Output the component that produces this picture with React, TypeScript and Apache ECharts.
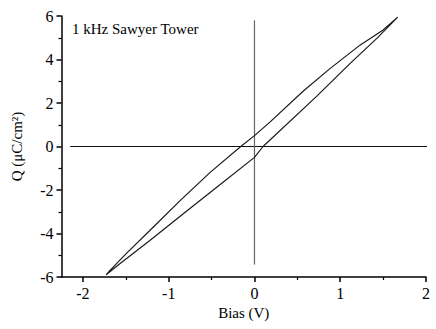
import React, { useEffect, useRef } from "react";
import * as echarts from "echarts";

const upperBias = [1.67, 1.5, 1.23, 0.88, 0.57, 0.18, 0.0, -0.16, -0.52, -0.87, -1.22, -1.49, -1.69, -1.73];
const upperQ = [5.95, 5.36, 4.66, 3.58, 2.55, 1.12, 0.5, 0.0, -1.2, -2.5, -3.86, -4.9, -5.72, -5.9];
const lowerBias = [-1.73, -1.57, -1.22, -0.83, -0.44, 0.0, 0.1, 0.73, 1.11, 1.43, 1.67];
const lowerQ = [-5.9, -5.39, -4.32, -3.09, -1.87, -0.5, 0.0, 2.33, 3.8, 4.98, 5.95];

const xMajor = [-2, -1, 0, 1, 2];
const xMinor = [-1.5, -0.5, 0.5, 1.5];
const hLineX = [-2.15, 2.13];
const vLineY = [-5.43, 5.8];

const FONT = "Liberation Serif";

export default function App() {
  const ref = useRef<HTMLDivElement>(null);
  useEffect(() => {
    if (!ref.current) return;
    const chart = echarts.init(ref.current, null, { renderer: "svg" });
    const loop = [
      ...upperBias.map((b, i) => [b, upperQ[i]]),
      ...lowerBias.map((b, i) => [b, lowerQ[i]]),
    ];
    chart.setOption({
      animation: false,
      backgroundColor: "#fff",
      title: {
        text: "1 kHz Sawyer Tower",
        left: 72,
        top: 21,
        padding: 0,
        textStyle: { fontFamily: FONT, fontSize: 15, fontWeight: "normal", color: "#000" },
      },
      grid: { left: 61.5, right: 10, top: 16, bottom: 52 },
      xAxis: [
        {
          type: "value",
          min: -2.25,
          max: 2,
          name: "Bias (V)",
          nameLocation: "middle",
          nameGap: 27,
          nameTextStyle: { fontFamily: FONT, fontSize: 15, color: "#000" },
          axisLine: { show: true, onZero: false, lineStyle: { color: "#000", width: 1.5 } },
          axisTick: { show: true, length: 5, customValues: xMajor, lineStyle: { color: "#000", width: 1.5 } },
          axisLabel: { customValues: xMajor, margin: 8, fontFamily: FONT, fontSize: 16, color: "#000" },
          splitLine: { show: false },
        },
        {
          type: "value",
          min: -2.25,
          max: 2,
          position: "bottom",
          axisLine: { show: false, onZero: false },
          axisTick: { show: true, length: 3, customValues: xMinor, lineStyle: { color: "#000", width: 1.2 } },
          axisLabel: { show: false },
          splitLine: { show: false },
        },
      ],
      yAxis: {
        type: "value",
        min: -6,
        max: 6,
        interval: 2,
        name: "Q (μC/cm²)",
        nameLocation: "middle",
        nameGap: 37,
        nameTextStyle: { fontFamily: FONT, fontSize: 15, color: "#000" },
        axisLine: { show: true, onZero: false, lineStyle: { color: "#000", width: 1.5 } },
        axisTick: { show: true, length: 5, lineStyle: { color: "#000", width: 1.5 } },
        minorTick: { show: true, splitNumber: 2, length: 3, lineStyle: { color: "#000", width: 1.2 } },
        axisLabel: { margin: 8, fontFamily: FONT, fontSize: 16, color: "#000" },
        splitLine: { show: false },
      },
      series: [
        {
          type: "line",
          data: hLineX.map((x) => [x, 0]),
          symbol: "none",
          clip: false,
          lineStyle: { color: "#111", width: 1.2 },
          silent: true,
        },
        {
          type: "line",
          data: vLineY.map((y) => [0, y]),
          symbol: "none",
          clip: false,
          lineStyle: { color: "#666", width: 1.2 },
          silent: true,
        },
        {
          type: "line",
          data: loop,
          symbol: "none",
          clip: false,
          lineStyle: { color: "#1a1a1a", width: 1.2 },
        },
      ],
    });
    return () => chart.dispose();
  }, []);
  return (
    <div
      ref={ref}
      style={{ position: "fixed", left: 0, top: 0, width: 436, height: 329 }}
    />
  );
}
